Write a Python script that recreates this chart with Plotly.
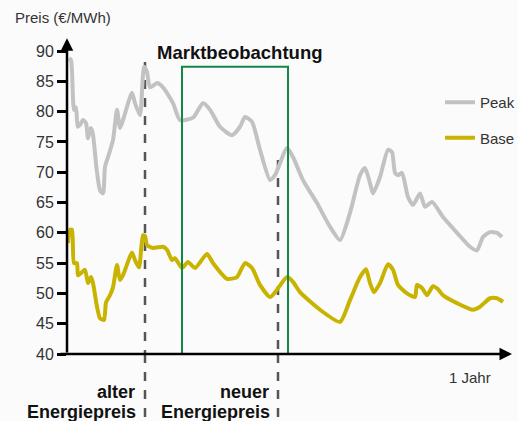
import plotly.graph_objects as go

# Time axis: day index within the displayed period (approx. 1 year)
peak_x = [2, 4, 7, 9, 10.7, 13, 16, 19, 21, 23.7, 25.7, 29.7, 33, 36, 38, 41, 46, 50, 53, 56,
          65, 68, 73, 77, 80, 83, 90, 96, 106, 113, 126, 136, 143, 153, 165, 173, 178, 185,
          193, 203, 208, 220, 226, 236, 250, 263, 273, 283, 293, 298, 303, 306, 313, 321, 325,
          328, 331, 335, 341, 346, 353, 358, 365, 376, 390, 403, 410, 416, 423, 430, 435]
peak_y = [88.8, 88.5, 80.3, 80.7, 77.5, 77.8, 78.6, 78.1, 75.6, 77.3, 76.5, 70.4, 67.0, 66.5,
          70.9, 72.5, 75.3, 80.3, 77.3, 78.6, 83.1, 81.4, 79.4, 87.4, 86.5, 84.0, 84.7, 84.0,
          81.4, 78.6, 79.0, 81.4, 80.3, 77.5, 76.1, 77.5, 79.1, 78.3, 73.7, 68.7, 69.5, 74.0,
          72.5, 68.7, 64.9, 61.0, 58.8, 63.3, 69.5, 70.7, 68.2, 66.5, 69.2, 73.7, 73.3, 69.9,
          69.5, 69.9, 65.9, 64.6, 66.5, 64.3, 65.1, 62.6, 60.0, 57.7, 57.1, 59.3, 60.1, 60.0, 59.3]

base_x = [1, 3, 5, 7, 10, 11, 15, 18, 21, 24, 26, 30, 33, 37, 39, 43, 46, 50, 53, 56, 65, 68,
          72, 76, 78, 80, 86, 96, 100, 105, 108, 115, 121, 128, 140, 146, 160, 170, 178, 185,
          193, 203, 210, 220, 226, 233, 253, 273, 283, 293, 299, 303, 307, 313, 321, 326, 331,
          340, 348, 350, 355, 360, 366, 371, 376, 390, 406, 413, 423, 430, 436]
base_y = [58.3, 60.5, 60.5, 55.0, 55.0, 53.0, 53.5, 53.9, 51.7, 52.7, 51.7, 47.8, 45.9, 45.6,
          48.5, 49.7, 51.0, 54.7, 52.2, 53.0, 56.7, 55.5, 54.3, 59.6, 59.5, 58.0, 57.5, 57.7,
          57.2, 55.5, 55.8, 54.2, 55.2, 54.2, 56.5, 55.0, 52.4, 52.7, 55.0, 54.2, 51.4, 49.4,
          50.6, 52.7, 51.9, 50.2, 47.3, 45.3, 48.9, 52.7, 54.0, 51.7, 50.2, 51.7, 54.8, 53.9,
          51.4, 50.0, 49.4, 51.4, 50.9, 49.7, 51.2, 50.7, 49.7, 48.4, 47.3, 47.8, 49.2, 49.2, 48.6]

y_ticks = [40, 45, 50, 55, 60, 65, 70, 75, 80, 85, 90]
x_max = 446
y_min, y_max = 40, 90

old_price_day = 78
new_price_day = 211
watch_start, watch_end, watch_top = 115, 221, 87.4
old_line_top, new_line_top = 88.2, 72.0

GRAY = "#c2c2c2"
YELLOW = "#c8b400"
GREEN = "#10884a"
TEXT = "#333333"
DARK = "#111111"
FONT = "Liberation Sans, Arial, sans-serif"

# plot area geometry (pixels) for paper-relative placement
PW, PH = 446.0, 303.0
def px(dx):   # horizontal offset from the y-axis, in px
    return dx / PW
def py(dy):   # vertical offset above the x-axis, in px
    return dy / PH

fig = go.Figure()
fig.add_trace(go.Scatter(x=peak_x, y=peak_y, mode="lines", name="Peak",
                         line=dict(color=GRAY, width=4, shape="spline", smoothing=0.6),
                         legendgroup="a"))
fig.add_trace(go.Scatter(x=base_x, y=base_y, mode="lines", name="Base",
                         line=dict(color=YELLOW, width=4, shape="spline", smoothing=0.6),
                         legendgroup="b"))

dash_line = dict(color="#555555", width=2.5, dash="dash")
shapes = [
    dict(type="line", xref="x", yref="y", x0=old_price_day, x1=old_price_day,
         y0=old_line_top, y1=y_min, line=dash_line, layer="below"),
    dict(type="line", xref="x", yref="paper", x0=old_price_day, x1=old_price_day,
         y0=0, y1=py(-70), line=dash_line),
    dict(type="line", xref="x", yref="y", x0=new_price_day, x1=new_price_day,
         y0=new_line_top, y1=y_min, line=dash_line, layer="below"),
    dict(type="line", xref="x", yref="paper", x0=new_price_day, x1=new_price_day,
         y0=0, y1=py(-70), line=dash_line),
    dict(type="rect", xref="x", yref="y", x0=watch_start, x1=watch_end,
         y0=y_min, y1=watch_top, line=dict(color=GREEN, width=2)),
]

annotations = [
    # axes with arrows
    dict(x=x_max - 1, y=y_min, ax=-8, ay=y_min, xref="x", yref="y", axref="x", ayref="y",
         showarrow=True, arrowhead=2, arrowsize=1, arrowwidth=2.5, arrowcolor="black", text=""),
    dict(x=0, y=y_max + 2.1, ax=0, ay=y_min, xref="x", yref="y", axref="x", ayref="y",
         showarrow=True, arrowhead=2, arrowsize=1, arrowwidth=2.5, arrowcolor="black", text=""),
    dict(x=px(-54), y=py(336), xref="paper", yref="paper", text="Preis (€/MWh)", showarrow=False,
         xanchor="left", yanchor="middle", font=dict(size=15, color=TEXT, family=FONT)),
    dict(x=px(88), y=py(302), xref="paper", yref="paper", text="<b>Marktbeobachtung</b>",
         showarrow=False, xanchor="left", yanchor="middle",
         font=dict(size=18.5, color=DARK, family=FONT)),
    dict(x=px(426), y=py(-23), xref="paper", yref="paper", text="1 Jahr", showarrow=False,
         xanchor="right", yanchor="middle", font=dict(size=15, color=TEXT, family=FONT)),
    dict(x=px(70), y=py(-38), xref="paper", yref="paper", text="<b>alter</b>", showarrow=False,
         xanchor="right", yanchor="middle", font=dict(size=18, color=DARK, family=FONT)),
    dict(x=px(71), y=py(-58), xref="paper", yref="paper", text="<b>Energiepreis</b>",
         showarrow=False, xanchor="right", yanchor="middle",
         font=dict(size=18, color=DARK, family=FONT)),
    dict(x=px(204), y=py(-38), xref="paper", yref="paper", text="<b>neuer</b>", showarrow=False,
         xanchor="right", yanchor="middle", font=dict(size=18, color=DARK, family=FONT)),
    dict(x=px(205), y=py(-58), xref="paper", yref="paper", text="<b>Energiepreis</b>",
         showarrow=False, xanchor="right", yanchor="middle",
         font=dict(size=18, color=DARK, family=FONT)),
]

fig.update_layout(
    width=518, height=421,
    margin=dict(l=67, r=5, t=51, b=67, autoexpand=False),
    paper_bgcolor="#fbfbfb", plot_bgcolor="#fbfbfb",
    shapes=shapes, annotations=annotations,
    showlegend=True,
    legend=dict(x=px(373), y=py(268), xanchor="left", yanchor="top",
                bgcolor="rgba(0,0,0,0)", font=dict(size=15, color=TEXT, family=FONT),
                traceorder="grouped", tracegroupgap=13, itemwidth=30),
    xaxis=dict(range=[0, x_max], showgrid=False, zeroline=False, showline=False,
               showticklabels=False, ticks=""),
    yaxis=dict(range=[y_min, y_max], tickvals=y_ticks, showgrid=False, zeroline=False,
               showline=False, ticks="outside", ticklen=9, tickwidth=2.5, tickcolor="black",
               tickfont=dict(size=16, color=TEXT, family=FONT)),
    font=dict(family=FONT),
)

# remove the default page margin so the 518x421 figure fills the window exactly
fig.write_html("out.html", config={"displayModeBar": False},
               post_script="document.body.style.margin='0';document.body.style.overflow='hidden';")
